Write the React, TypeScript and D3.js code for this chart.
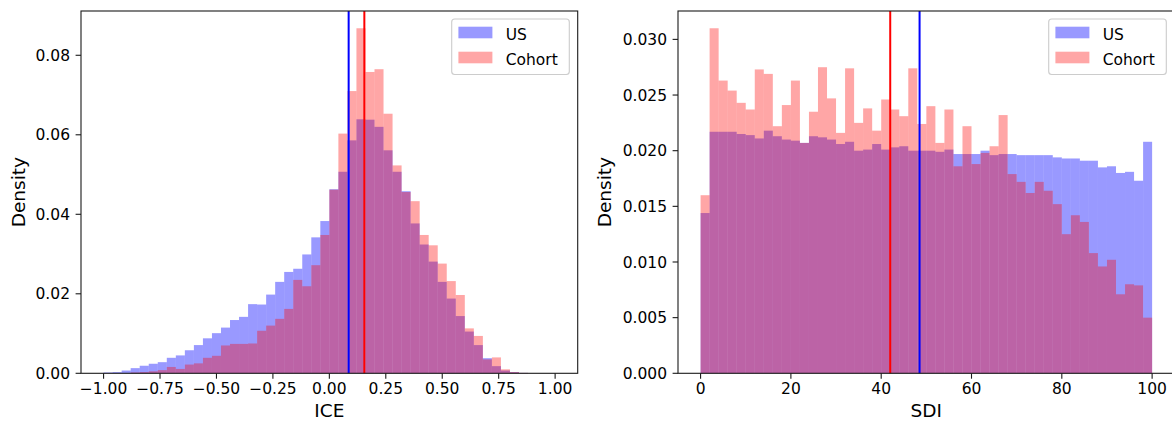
import React from "react";
import * as d3 from "d3";

// ---------- data (fractions per bin) ----------
const ICE_BIN_START = -1;
const ICE_BIN_WIDTH = 0.04;
const US_ICE = [
  0.0002, 0.0003, 0.0007, 0.0013, 0.0019, 0.0024, 0.0028, 0.0039, 0.0045, 0.0058,
  0.0071, 0.0088, 0.0101, 0.0115, 0.0134, 0.0142, 0.0174, 0.0173, 0.0198, 0.0230,
  0.0255, 0.0263, 0.0299, 0.0342, 0.0383, 0.0463, 0.0507, 0.0586, 0.0639, 0.0638,
  0.0620, 0.0561, 0.0507, 0.0458, 0.0377, 0.0324, 0.0281, 0.0230, 0.0188, 0.0144,
  0.0105, 0.0071, 0.0038, 0.0018, 0.0007, 0.0003, 0.0001, 0, 0, 0,
];
const COHORT_ICE = [
  0, 0, 0, 0.0002, 0.0003, 0.0005, 0.0008, 0.0016, 0.0011, 0.0022,
  0.0025, 0.0039, 0.0044, 0.0070, 0.0074, 0.0074, 0.0075, 0.0107, 0.0120, 0.0137,
  0.0162, 0.0235, 0.0219, 0.0272, 0.0348, 0.0462, 0.0603, 0.0710, 0.0868, 0.0758,
  0.0765, 0.0653, 0.0523, 0.0456, 0.0433, 0.0348, 0.0322, 0.0276, 0.0232, 0.0197,
  0.0113, 0.0094, 0.0035, 0.0040, 0.0010, 0.0003, 0.0001, 0, 0, 0,
];
const ICE_MEANS = { us: 0.0855, cohort: 0.155 };
const ICE_X_TICKS = [-1, -0.75, -0.5, -0.25, 0, 0.25, 0.5, 0.75, 1];
const ICE_Y_TICKS = [0, 0.02, 0.04, 0.06, 0.08];

const SDI_BIN_START = 0;
const SDI_BIN_WIDTH = 2;
const US_SDI = [
  0.0144, 0.0217, 0.0217, 0.0217, 0.0215, 0.0214, 0.0211, 0.0218, 0.0213, 0.0210,
  0.0209, 0.0207, 0.0213, 0.0212, 0.0210, 0.0206, 0.0208, 0.0200, 0.0201, 0.0206,
  0.0201, 0.0203, 0.0204, 0.0200, 0.0200, 0.0200, 0.0199, 0.0201, 0.0197, 0.0197,
  0.0197, 0.0200, 0.0196, 0.0197, 0.0197, 0.0196, 0.0196, 0.0196, 0.0196, 0.0194,
  0.0193, 0.0193, 0.0191, 0.0191, 0.0185, 0.0186, 0.0180, 0.0181, 0.0173, 0.0208,
];
const COHORT_SDI = [
  0.0160, 0.0310, 0.0263, 0.0254, 0.0243, 0.0237, 0.0273, 0.0269, 0.0222, 0.0241,
  0.0263, 0.0207, 0.0235, 0.0275, 0.0247, 0.0216, 0.0274, 0.0225, 0.0238, 0.0218,
  0.0246, 0.0237, 0.0231, 0.0274, 0.0224, 0.0240, 0.0207, 0.0237, 0.0186, 0.0222,
  0.0188, 0.0198, 0.0204, 0.0232, 0.0179, 0.0172, 0.0162, 0.0172, 0.0164, 0.0152,
  0.0125, 0.0142, 0.0136, 0.0108, 0.0096, 0.0102, 0.0071, 0.0080, 0.0079, 0.0050,
];
const SDI_MEANS = { us: 48.5, cohort: 42.0 };
const SDI_X_TICKS = [0, 20, 40, 60, 80, 100];
const SDI_Y_TICKS = [0, 0.005, 0.01, 0.015, 0.02, 0.025, 0.03];

const SERIES = ["US", "Cohort"];

// ---------- styling ----------
const FONT = "'DejaVu Sans', sans-serif";
const US_FILL = "rgba(0,0,255,0.4)";
const CO_FILL = "rgba(255,0,0,0.35)";
const SPINE = "#1a1a1a";

type PanelProps = {
  left: number;
  width: number;
  xDomain: [number, number];
  binStart: number;
  binWidth: number;
  us: number[];
  cohort: number[];
  means: { us: number; cohort: number };
  xTicks: number[];
  yTicks: number[];
  xFmt: (v: number) => string;
  yFmt: (v: number) => string;
  xLabel: string;
  yLabelX: number;
};

const TOP = 11;
const BOTTOM = 373.3;

function Panel(p: PanelProps) {
  const x = d3.scaleLinear().domain(p.xDomain).range([p.left, p.left + p.width]);
  const ymax = (d3.max([...p.us, ...p.cohort]) as number) * 1.05;
  const y = d3.scaleLinear().domain([0, ymax]).range([BOTTOM, TOP]);

  const bars = (vals: number[], fill: string, key: string) =>
    vals.map((v, i) => {
      const x0 = x(p.binStart + i * p.binWidth);
      const x1 = x(p.binStart + (i + 1) * p.binWidth);
      if (v <= 0) return null;
      return (
        <rect
          key={key + i}
          x={x0}
          y={y(v)}
          width={x1 - x0}
          height={BOTTOM - y(v)}
          fill={fill}
        />
      );
    });

  const right = p.left + p.width;
  const legX = right - 126;
  const legY = 19;

  return (
    <g>
      {bars(p.us, US_FILL, "us")}
      {bars(p.cohort, CO_FILL, "co")}
      <line x1={x(p.means.us)} x2={x(p.means.us)} y1={TOP} y2={BOTTOM} stroke="blue" strokeWidth={2} />
      <line x1={x(p.means.cohort)} x2={x(p.means.cohort)} y1={TOP} y2={BOTTOM} stroke="red" strokeWidth={2} />
      {/* spines */}
      <rect x={p.left} y={TOP} width={p.width} height={BOTTOM - TOP} fill="none" stroke={SPINE} strokeWidth={1.1} />
      {/* x ticks */}
      {p.xTicks.map((t) => (
        <g key={"xt" + t}>
          <line x1={x(t)} x2={x(t)} y1={BOTTOM} y2={BOTTOM + 5.4} stroke={SPINE} strokeWidth={1.1} />
          <text x={x(t)} y={393.5} textAnchor="middle" fontSize={15.5} fontFamily={FONT} fill="#000">
            {p.xFmt(t)}
          </text>
        </g>
      ))}
      {/* y ticks */}
      {p.yTicks.map((t) => (
        <g key={"yt" + t}>
          <line x1={p.left - 5.4} x2={p.left} y1={y(t)} y2={y(t)} stroke={SPINE} strokeWidth={1.1} />
          <text x={p.left - 11} y={y(t) + 5.6} textAnchor="end" fontSize={15.5} fontFamily={FONT} fill="#000">
            {p.yFmt(t)}
          </text>
        </g>
      ))}
      <text x={p.left + p.width / 2} y={417} textAnchor="middle" fontSize={18.5} fontFamily={FONT} fill="#000">
        {p.xLabel}
      </text>
      <text
        transform={`translate(${p.yLabelX},${(TOP + BOTTOM) / 2}) rotate(-90)`}
        textAnchor="middle"
        fontSize={18.5}
        fontFamily={FONT}
        fill="#000"
      >
        Density
      </text>
      {/* legend */}
      <g>
        <rect x={legX} y={legY} width={117.6} height={55.5} rx={3} ry={3} fill="rgba(255,255,255,0.8)" stroke="#cccccc" strokeWidth={1.1} />
        {SERIES.map((s, i) => (
          <g key={s}>
            <rect x={legX + 6.7} y={legY + 7.7 + i * 25} width={34} height={11.6} fill={i === 0 ? US_FILL : CO_FILL} />
            <text x={legX + 54} y={legY + 21 + i * 24.6} fontSize={15.5} fontFamily={FONT} fill="#000">
              {s}
            </text>
          </g>
        ))}
      </g>
    </g>
  );
}

const minusFmt = (f: (v: number) => string) => (v: number) => f(v).replace("-", "\u2212");

export default function App() {
  return (
    <svg
      width={1172}
      height={423}
      style={{ position: "absolute", left: 0, top: 0, background: "#fff" }}
    >
      <rect x={0} y={0} width={1172} height={423} fill="#fff" />
      <Panel
        left={81}
        width={496.7}
        xDomain={[-1.1, 1.1]}
        binStart={ICE_BIN_START}
        binWidth={ICE_BIN_WIDTH}
        us={US_ICE}
        cohort={COHORT_ICE}
        means={ICE_MEANS}
        xTicks={ICE_X_TICKS}
        yTicks={ICE_Y_TICKS}
        xFmt={minusFmt(d3.format(".2f"))}
        yFmt={d3.format(".2f")}
        xLabel="ICE"
        yLabelX={25}
      />
      <Panel
        left={678}
        width={496.7}
        xDomain={[-5, 105]}
        binStart={SDI_BIN_START}
        binWidth={SDI_BIN_WIDTH}
        us={US_SDI}
        cohort={COHORT_SDI}
        means={SDI_MEANS}
        xTicks={SDI_X_TICKS}
        yTicks={SDI_Y_TICKS}
        xFmt={d3.format("d")}
        yFmt={d3.format(".3f")}
        xLabel="SDI"
        yLabelX={611}
      />
    </svg>
  );
}
